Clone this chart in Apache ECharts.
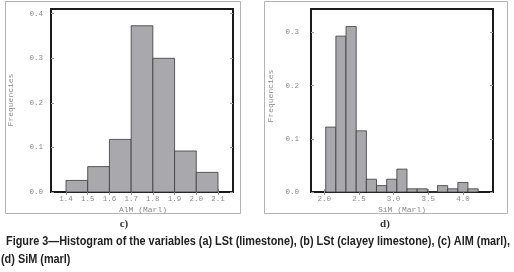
<!DOCTYPE html>
<html><head><meta charset="utf-8">
<script src="https://cdn.jsdelivr.net/npm/echarts@6/dist/echarts.min.js"></script>
<style>html,body{margin:0;padding:0;background:#fff}#c{width:514px;height:272px}</style>
</head><body><div id="c"></div>
<script>
// Panel c) AlM (Marl)
const alEdges = [1.4, 1.5, 1.6, 1.7, 1.8, 1.9, 2.0, 2.1];
const alFreq = [0.026, 0.057, 0.118, 0.373, 0.300, 0.092, 0.044];
const alXTicks = [1.4, 1.5, 1.6, 1.7, 1.8, 1.9, 2.0, 2.1];
const alYTicks = [0, 0.1, 0.2, 0.3, 0.4];
// Panel d) SiM (Marl)
const siEdges = [2.02, 2.167, 2.313, 2.46, 2.607, 2.753, 2.9, 3.047, 3.193, 3.34, 3.487, 3.633, 3.78, 3.927, 4.073, 4.22];
const siFreq = [0.122, 0.293, 0.311, 0.115, 0.024, 0.012, 0.024, 0.043, 0.006, 0.006, 0, 0.012, 0.006, 0.018, 0.006];
const siXTicks = [2.0, 2.5, 3.0, 3.5, 4.0];
const siYTicks = [0, 0.1, 0.2, 0.3];
const caption1 = 'Figure 3\u2014Histogram of the variables (a) LSt (limestone), (b) LSt (clayey limestone), (c) AlM (marl),';
const caption2 = '(d) SiM (marl)';

function binData(edges, freq) {
  return freq.map((f, i) => [edges[i], edges[i + 1], f]);
}
const mono = '"Liberation Mono", "DejaVu Sans Mono", monospace';
const gray = '#8c8c8c';
function xAxes(grid, min, max, ticks, fmt) {
  return [{
    type: 'value', gridIndex: grid, min: min, max: max, position: 'bottom',
    axisLine: {show: false}, splitLine: {show: false},
    axisTick: {inside: true, length: 3, customValues: ticks, lineStyle: {color: '#999'}},
    axisLabel: {customValues: ticks, formatter: v => v.toFixed(fmt), fontFamily: mono, fontSize: 7.5, color: gray, margin: 3}
  }, {
    type: 'value', gridIndex: grid, min: min, max: max, position: 'top',
    axisLine: {show: false}, splitLine: {show: false},
    axisTick: {inside: true, length: 3, customValues: ticks, lineStyle: {color: '#999'}},
    axisLabel: {show: false}
  }];
}
function yAxes(grid, max, ticks, margin) {
  return [{
    type: 'value', gridIndex: grid, min: 0, max: max, position: 'left',
    axisLine: {show: false}, splitLine: {show: false},
    axisTick: {inside: true, length: 3, customValues: ticks, lineStyle: {color: '#999'}},
    axisLabel: {customValues: ticks, formatter: v => v.toFixed(1), fontFamily: mono, fontSize: 7.5, color: gray, margin: margin}
  }, {
    type: 'value', gridIndex: grid, min: 0, max: max, position: 'right',
    axisLine: {show: false}, splitLine: {show: false},
    axisTick: {inside: true, length: 3, customValues: ticks, lineStyle: {color: '#999'}},
    axisLabel: {show: false}
  }];
}
function renderBin(params, api) {
  const p0 = api.coord([api.value(0), api.value(2)]);
  const p1 = api.coord([api.value(1), 0]);
  return {
    type: 'rect',
    shape: {x: p0[0], y: p0[1], width: p1[0] - p0[0], height: p1[1] - p0[1]},
    style: {fill: '#a9a9ad', stroke: '#3a3a3a', lineWidth: 0.8}
  };
}

// caption scaling
const ctx = document.createElement('canvas').getContext('2d');
const capFont = 'bold 12px "Liberation Sans"';
ctx.font = capFont;
const capScale = 504 / ctx.measureText(caption1).width;

const chart = echarts.init(document.getElementById('c'), null, {renderer: 'canvas'});
chart.setOption({
  animation: false,
  backgroundColor: '#fff',
  grid: [
    {left: 51, top: 9, width: 182, height: 183, show: true, borderColor: '#1a1a1a', borderWidth: 2, backgroundColor: 'transparent'},
    {left: 311, top: 9, width: 182, height: 183, show: true, borderColor: '#1a1a1a', borderWidth: 2, backgroundColor: 'transparent'}
  ],
  xAxis: [...xAxes(0, 1.331, 2.169, alXTicks, 1), ...xAxes(1, 1.808, 4.434, siXTicks, 1)],
  yAxis: [...yAxes(0, 0.4106, alYTicks, 8), ...yAxes(1, 0.344, siYTicks, 12)],
  series: [
    {type: 'custom', xAxisIndex: 0, yAxisIndex: 0, renderItem: renderBin, data: binData(alEdges, alFreq), encode: {x: [0, 1], y: 2}},
    {type: 'custom', xAxisIndex: 2, yAxisIndex: 2, renderItem: renderBin, data: binData(siEdges, siFreq), encode: {x: [0, 1], y: 2}}
  ],
  graphic: [
    {type: 'rect', shape: {x: 5.5, y: 1.5, width: 235, height: 212}, style: {fill: 'none', stroke: '#b4b4b4', lineWidth: 1}, z: -1},
    {type: 'rect', shape: {x: 264.5, y: 1.5, width: 243, height: 212}, style: {fill: 'none', stroke: '#b4b4b4', lineWidth: 1}, z: -1},
    {type: 'text', x: 11, y: 100, rotation: Math.PI / 2, style: {text: 'Frequencies', font: '8px ' + mono, fill: gray, align: 'center', verticalAlign: 'middle'}},
    {type: 'text', x: 271, y: 96, rotation: Math.PI / 2, style: {text: 'Frequencies', font: '8px ' + mono, fill: gray, align: 'center', verticalAlign: 'middle'}},
    {type: 'text', x: 143, y: 210, style: {text: 'AlM (Marl)', font: '8px ' + mono, fill: gray, align: 'center', verticalAlign: 'middle'}},
    {type: 'text', x: 402, y: 210, style: {text: 'SiM (Marl)', font: '8px ' + mono, fill: gray, align: 'center', verticalAlign: 'middle'}},
    {type: 'text', x: 124, y: 224, style: {text: 'c)', font: 'bold 11px "Liberation Serif"', fill: '#333', align: 'center', verticalAlign: 'middle'}},
    {type: 'text', x: 385, y: 224, style: {text: 'd)', font: 'bold 11px "Liberation Serif"', fill: '#333', align: 'center', verticalAlign: 'middle'}},
    {type: 'text', x: 6, y: 242, scaleX: capScale, style: {text: caption1, font: capFont, fill: '#222', align: 'left', verticalAlign: 'middle'}},
    {type: 'text', x: 1, y: 259.5, scaleX: capScale, style: {text: caption2, font: capFont, fill: '#222', align: 'left', verticalAlign: 'middle'}}
  ]
});
</script></body></html>
